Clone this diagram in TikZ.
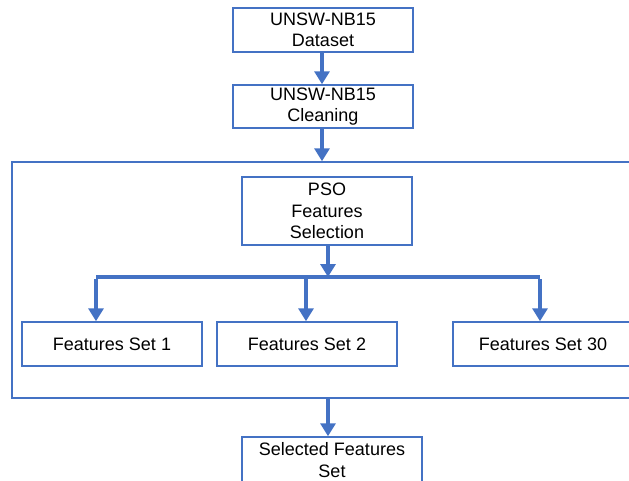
\documentclass[tikz,border=0pt]{standalone}
\usepackage{fontspec}
\setmainfont{Liberation Sans}
\usepackage{tikz}
\usetikzlibrary{arrows.meta,positioning,calc}
\definecolor{flowblue}{RGB}{68,114,196}

\begin{document}
\begin{tikzpicture}[x=1pt,y=-1pt,
    box/.style={draw=flowblue,line width=1.5pt,fill=white,align=center,inner sep=0pt,
      minimum width=180pt,minimum height=44pt,font=\fontsize{18}{21.5}\selectfont},
    frame/.style={draw=flowblue,line width=1.5pt,inner sep=0pt},
    flow/.style={draw=flowblue,line width=4.2pt,-{Triangle[width=15pt,length=13pt]}},
    link/.style={draw=flowblue,line width=4.6pt}]
  % page size, the frame and the bottom box run off the edge
  \useasboundingbox (0,0) rectangle (629,480);
  \clip (0,0) rectangle (629,480);
  % outer stage holding the PSO step and its feature sets
  \node[frame,minimum width=650pt,minimum height=236pt] (stage) at (337,280) {};
  \node[box] (data) at (323,30) {UNSW-NB15\\Dataset};
  \node[box,minimum height=43pt] (clean) at (323,106.5) {UNSW-NB15\\Cleaning};
  \node[box,minimum width=170pt,minimum height=68pt] (pso) at (327,211) {PSO\\Features\\Selection};
  \node[box] (set1) at (112,344) {Features Set 1};
  \node[box] (set2) at (307,344) {Features Set 2};
  \node[box] (set30) at (543,344) {Features Set 30};
  \node[box,minimum height=46pt] (sel) at (332,460) {Selected Features\\Set};
  % branch points
  \coordinate (top) at (322,0);
  \coordinate (hub) at (328,277);
  \coordinate (d1) at (96,277);
  \coordinate (d2) at (306,277);
  \coordinate (d30) at (540,277);
  \coordinate (out) at (328,398);
  \draw[flow] (data.south -| top) -- (clean.north -| top);
  \draw[flow] (clean.south -| top) -- (stage.north -| top);
  \draw[flow] (pso.south -| hub) -- (hub);
  \draw[link] (d1) -- (d30);
  \draw[flow] ([yshift=-2.3pt]d1) -- (d1 |- set1.north);
  \draw[flow] (d2) -- (d2 |- set2.north);
  \draw[flow] ([yshift=-2.3pt]d30) -- (d30 |- set30.north);
  \draw[flow] (out) -- (out |- sel.north);
\end{tikzpicture}
\end{document}
